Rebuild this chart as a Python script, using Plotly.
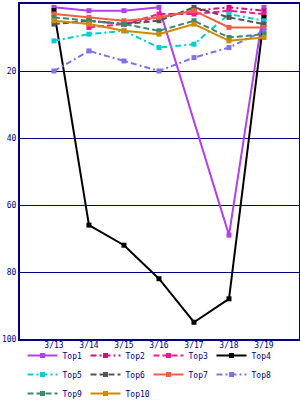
import plotly.graph_objects as go

dates = ["3/13", "3/14", "3/15", "3/16", "3/17", "3/18", "3/19"]
names = ["Top1", "Top2", "Top3", "Top4", "Top5", "Top6", "Top7", "Top8", "Top9", "Top10"]

top1 = [1, 2, 2, 1, None, 69, 1]
top2 = [None, 5, 6, 4, 2, 1, 2]
top3 = [None, 7, 6, 3, 3, 2, 3]
top4 = [2, 66, 72, 82, 95, 88, 4]
top5 = [11, 9, 8, 13, 12, 3, 5]
top6 = [6, 5, 6, 5, 1, 4, 6]
top7 = [3, 4, 5, 4, 2, 7, 7]
top8 = [20, 14, 17, 20, 16, 13, 8]
top9 = [4, 5, 6, 8, 5, 10, 9]
top10 = [5, 6, 8, 9, 6, 11, 10]

series = [top1, top2, top3, top4, top5, top6, top7, top8, top9, top10]
colors = ["#B040F0", "#C0187F", "#FF1493", "#000000", "#00CED1",
          "#555555", "#F06040", "#8070F0", "#3E8A6E", "#D08A00"]
dashes = ["solid", "6px,3px,2px,3px", "6px,3px", "solid", "6px,3px,2px,3px",
          "6px,3px", "solid", "6px,3px,2px,3px", "6px,3px", "solid"]

fig = go.Figure()
for n, s, c, d in zip(names, series, colors, dashes):
    fig.add_trace(go.Scatter(
        x=dates, y=s, name=n, mode="lines+markers", connectgaps=True,
        line=dict(color=c, width=2, dash=d),
        marker=dict(symbol="square", size=5, color=c),
    ))

navy = "#000080"
fig.update_layout(
    width=300, height=400,
    margin=dict(l=20, r=1, t=4, b=61, autoexpand=False),
    paper_bgcolor="white", plot_bgcolor="white",
    font=dict(family="DejaVu Sans Mono", size=8, color=navy),
    showlegend=True,
    legend=dict(orientation="h", x=0.075, y=0.1475, xref="container", yref="container",
                xanchor="left", yanchor="top",
                entrywidth=18, entrywidthmode="pixels", itemwidth=30,
                font=dict(size=8, color=navy), tracegroupgap=0,
                bgcolor="rgba(0,0,0,0)"),
    xaxis=dict(type="category", range=[-0.97, 7], showgrid=False, zeroline=False,
               showline=True, linecolor=navy, linewidth=2, mirror=True,
               ticks="", ticklabelstandoff=-3, tickfont=dict(size=8, color=navy)),
    yaxis=dict(range=[100, 0], tickvals=[20, 40, 60, 80, 100], showgrid=True,
               gridcolor=navy, gridwidth=1, zeroline=False,
               showline=True, linecolor=navy, linewidth=2, mirror=True,
               ticks="", tickfont=dict(size=8, color=navy)),
)

fig.write_html("out.html")
